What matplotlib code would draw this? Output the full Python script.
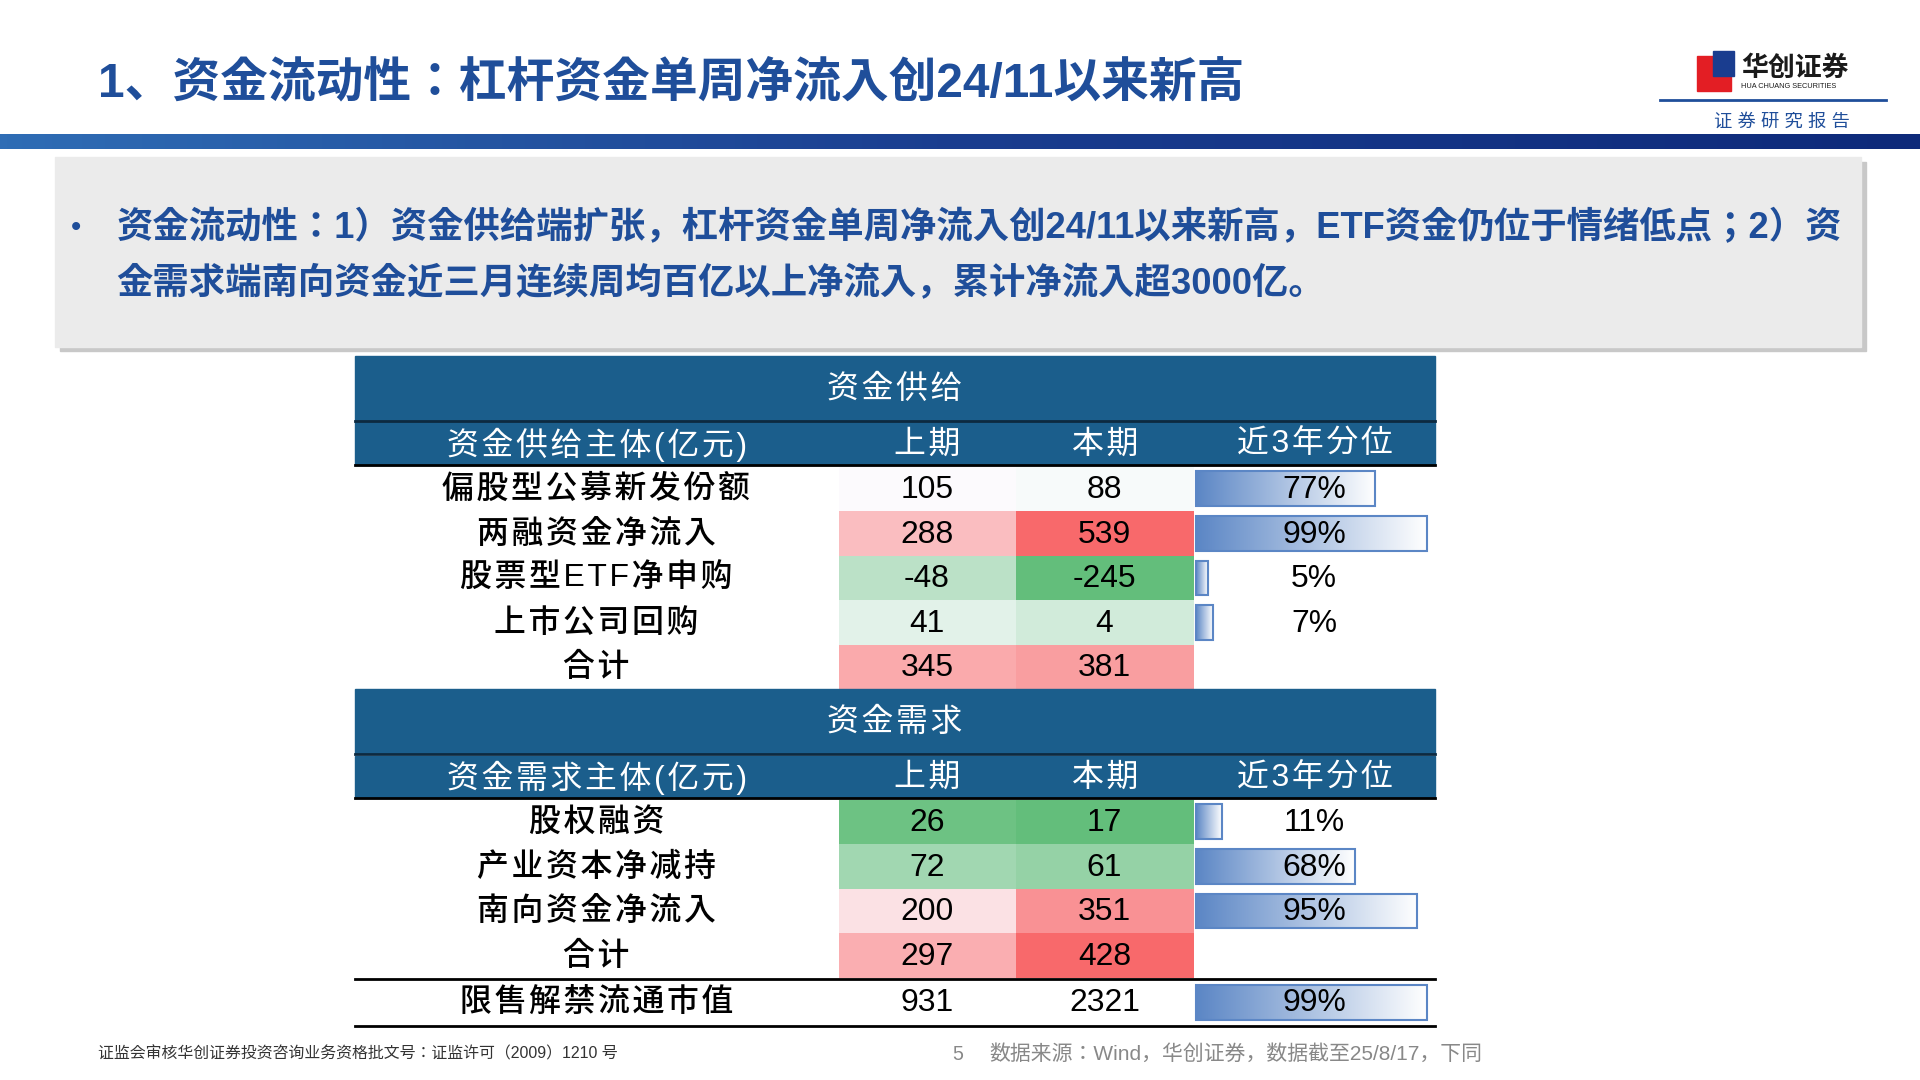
import numpy as np
import matplotlib.pyplot as plt
from matplotlib import font_manager
from matplotlib.colors import LinearSegmentedColormap, TwoSlopeNorm
from matplotlib.patches import Rectangle

cjk = [f.name for f in font_manager.fontManager.ttflist if 'CJK' in f.name]
cjk_name = 'Noto Sans CJK SC' if 'Noto Sans CJK SC' in cjk else (cjk[0] if cjk else 'DejaVu Sans')
plt.rcParams['font.family'] = ['Liberation Sans', cjk_name]

# data
supply_labels = ['偏股型公募新发份额', '两融资金净流入', '股票型ETF净申购', '上市公司回购', '合计']
supply_prev = [105, 288, -48, 41, 345]
supply_curr = [88, 539, -245, 4, 381]
supply_pct = [77, 99, 5, 7, None]
demand_labels = ['股权融资', '产业资本净减持', '南向资金净流入', '合计']
demand_prev = [26, 72, 200, 297]
demand_curr = [17, 61, 351, 428]
demand_pct = [11, 68, 95, None]
unlock_label = '限售解禁流通市值'
unlock_prev = 931
unlock_curr = 2321
unlock_pct = 99

title = '1、资金流动性：杠杆资金单周净流入创24/11以来新高'
summary = ['资金流动性：1）资金供给端扩张，杠杆资金单周净流入创24/11以来新高，ETF资金仍位于情绪低点；2）资',
           '金需求端南向资金近三月连续周均百亿以上净流入，累计净流入超3000亿。']

W, H = 1568, 882
fig = plt.figure(figsize=(19.2, 10.8), dpi=100)
ax = fig.add_axes([0, 0, 1, 1])
ax.set_xlim(0, W)
ax.set_ylim(H, 0)
ax.axis('off')
S = 1920 / W  # ref px -> out px
def fs(px):
    return px * S * 0.72

def spaced(s):
    # chinese labels in the table are slightly letter-spaced
    return '\u200a'.join(s)

BLUE = '#1F4E9A'
HEAD = '#1B5E8C'
cmap = LinearSegmentedColormap.from_list('gwr', ['#63BE7B', '#FCFCFF', '#F8696B'])

# header
ax.text(80, 68, title, fontsize=fs(39), color=BLUE, fontweight='bold', va='center')
grad = np.linspace(0, 1, 256)[None, :]
ax.imshow(grad, extent=[0, W, 122, 110], aspect='auto',
          cmap=LinearSegmentedColormap.from_list('b', ['#2F6DB5', '#1A3D8F', '#0E2A7A']))
ax.add_patch(Rectangle((1386, 46), 28, 28, color='#E31E24'))
ax.add_patch(Rectangle((1399, 42), 17, 20, color='#1A3D8F'))
ax.text(1422, 56, '华创证券', fontsize=fs(22), fontweight='bold', color='#1A1A1A', va='center')
ax.text(1422, 71, 'HUA CHUANG SECURITIES', fontsize=fs(6), color='#1A1A1A', va='center')
ax.plot([1356, 1540], [82, 82], color=BLUE, lw=2)
ax.text(1455, 100, '证 券 研 究 报 告', fontsize=fs(15), color=BLUE, ha='center', va='center')

# summary box
ax.add_patch(Rectangle((49, 132), 1475, 155, color='#C8C8C8', zorder=1))
ax.add_patch(Rectangle((45, 128), 1475, 155, color='#EBEBEB', zorder=2))
ax.text(58, 186, '•', fontsize=fs(24), color=BLUE, va='center', zorder=3)
for i, line in enumerate(summary):
    ax.text(95, 186 + 46 * i, line, fontsize=fs(29.7), color=BLUE, fontweight='bold',
            va='center', zorder=3)

# table
X0, X1 = 290, 1172
cols = [290, 685, 830, 975, 1172]
RH = 36.4
TXT = dict(fontsize=fs(26), va='center', ha='center', color='black')
LAB = dict(fontsize=fs(26), va='center', ha='center', color='black', fontweight='medium')

def header(y0, name, sub):
    ax.add_patch(Rectangle((X0, y0), X1 - X0, 52, color=HEAD))
    ax.text((X0 + X1) / 2, y0 + 27, spaced(name), fontsize=fs(26), color='white',
            ha='center', va='center')
    ax.add_patch(Rectangle((X0, y0 + 54), X1 - X0, 35, color=HEAD))
    ax.plot([X0, X1], [y0 + 53, y0 + 53], color='#0D2A40', lw=2)
    ax.plot([X0, X1], [y0 + 89, y0 + 89], color='black', lw=2)
    for j, t in enumerate([sub, '上期', '本期', '近3年分位']):
        ax.text((cols[j] + cols[j + 1]) / 2, y0 + 72, spaced(t), fontsize=fs(26),
                color='white', ha='center', va='center')
    return y0 + 90

def databar(y, pct):
    w = pct / 100 * 190
    ax.imshow(grad, extent=[977, 977 + w, y + RH - 4, y + 4], aspect='auto',
              cmap=LinearSegmentedColormap.from_list('d', ['#5B86C5', '#FFFFFF']), zorder=2)
    ax.add_patch(Rectangle((977, y + 4), w, RH - 8, fill=False, ec='#5B86C5', lw=1.5, zorder=3))

def block(y, labels, prev, curr, pct, norm):
    for i, lab in enumerate(labels):
        yy = y + i * RH
        for j, v in enumerate([prev[i], curr[i]]):
            ax.add_patch(Rectangle((cols[1 + j], yy), 145, RH, color=cmap(norm(v)), lw=0))
            ax.text(cols[1 + j] + 72, yy + RH / 2 + 1, str(v), **TXT)
        ax.text(487, yy + RH / 2 + 1, spaced(lab), **LAB)
        if pct[i] is not None:
            databar(yy, pct[i])
            ax.text(1073, yy + RH / 2 + 1, f'{pct[i]}%', zorder=4, **TXT)
    return y + len(labels) * RH

y = header(291, '资金供给', '资金供给主体(亿元)')
y = block(y, supply_labels, supply_prev, supply_curr, supply_pct,
          TwoSlopeNorm(vmin=-245, vcenter=100, vmax=539))
y = header(y, '资金需求', '资金需求主体(亿元)')
y = block(y, demand_labels, demand_prev, demand_curr, demand_pct,
          TwoSlopeNorm(vmin=17, vcenter=150, vmax=428))
ax.plot([X0, X1], [y + 1, y + 1], color='black', lw=2)
y += 2
ax.text(487, y + RH / 2, spaced(unlock_label), **LAB)
ax.text(757, y + RH / 2, str(unlock_prev), **TXT)
ax.text(902, y + RH / 2, str(unlock_curr), **TXT)
databar(y, unlock_pct)
ax.text(1073, y + RH / 2, f'{unlock_pct}%', zorder=4, **TXT)
ax.plot([X0, X1], [y + RH + 1, y + RH + 1], color='black', lw=2)

# footer
ax.text(80, 861, '证监会审核华创证券投资咨询业务资格批文号：证监许可（2009）1210 号',
        fontsize=fs(13), color='#333333', va='center')
ax.text(778, 861, '5', fontsize=fs(16), color='#888888', va='center')
ax.text(808, 861, '数据来源：Wind，华创证券，数据截至25/8/17，下同',
        fontsize=fs(17), color='#888888', va='center')

fig.savefig('out.png', dpi=100)
